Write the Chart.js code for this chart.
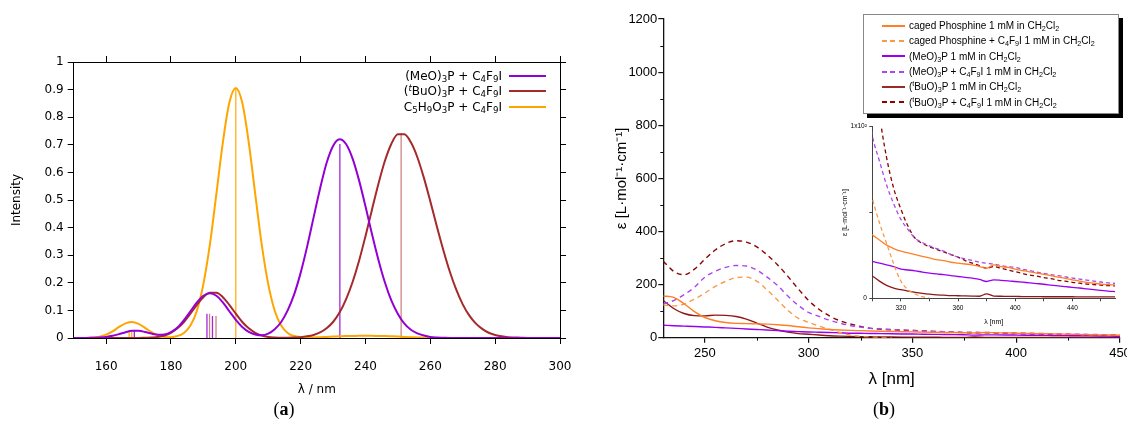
<!DOCTYPE html>
<html>
<head>
<meta charset="utf-8">
<script src="https://cdn.jsdelivr.net/npm/chart.js@4.4.1/dist/chart.umd.min.js"></script>
<style>
  html, body { margin: 0; padding: 0; background: #fff; }
  body { width: 1127px; height: 425px; position: relative; overflow: hidden; }
  canvas { position: absolute; }
  #cA { left: 0; top: 0; }
  #cB { left: 560px; top: 0; }
  #cI { left: 820px; top: 110px; }
  sub { font-size: 72%; vertical-align: -0.28em; line-height: 0; }
  sup { font-size: 72%; vertical-align: 0.5em; line-height: 0; }
  #legA { position: absolute; left: 296px; top: 68px; width: 250px;
          font: 12px 'DejaVu Sans', sans-serif; color: #000; }
  .rowA { display: flex; justify-content: flex-end; align-items: center; height: 15.5px; white-space: nowrap; }
  .sampA { display: inline-block; width: 37px; height: 2px; margin-left: 7px; }
  #legB { position: absolute; left: 863px; top: 14px; width: 256px; height: 100px; box-sizing: border-box;
          border: 1px solid #888; background: #fff; box-shadow: 4px 4px 0 #000; padding-top: 3px;
          font: 10px 'Liberation Sans', Arial, sans-serif; color: #000; }
  .rowB { height: 15.3px; display: flex; align-items: center; white-space: nowrap; }
  .sampB { display: inline-block; width: 23px; height: 2px; margin-left: 18px; margin-right: 4px; }
  .cap { position: absolute; top: 399px; text-align: center; font: 18px 'Liberation Serif', serif; color: #000; }
</style>
</head>
<body>
<canvas id="cA" width="588" height="400"></canvas>
<canvas id="cB" width="580" height="400"></canvas>
<canvas id="cI" width="307" height="230"></canvas>

<div id="legA">
  <div class="rowA"><span>(MeO)<sub>3</sub>P + C<sub>4</sub>F<sub>9</sub>I</span><span class="sampA" style="background:#9400d3"></span></div>
  <div class="rowA"><span>(<sup><i>t</i></sup>BuO)<sub>3</sub>P + C<sub>4</sub>F<sub>9</sub>I</span><span class="sampA" style="background:#a52a2a"></span></div>
  <div class="rowA"><span>C<sub>5</sub>H<sub>9</sub>O<sub>3</sub>P + C<sub>4</sub>F<sub>9</sub>I</span><span class="sampA" style="background:#ffa500"></span></div>
</div>

<div id="legB">
  <div class="rowB"><span class="sampB" style="background:#ff7f27"></span><span>caged Phosphine 1 mM in CH<sub>2</sub>Cl<sub>2</sub></span></div>
  <div class="rowB"><span class="sampB" style="background:repeating-linear-gradient(90deg,#f99a4a 0 5px,transparent 5px 8.5px)"></span><span>caged Phosphine + C<sub>4</sub>F<sub>9</sub>I 1 mM in CH<sub>2</sub>Cl<sub>2</sub></span></div>
  <div class="rowB"><span class="sampB" style="background:#9900ee"></span><span>(MeO)<sub>3</sub>P 1 mM in CH<sub>2</sub>Cl<sub>2</sub></span></div>
  <div class="rowB"><span class="sampB" style="background:repeating-linear-gradient(90deg,#a848f0 0 5px,transparent 5px 8.5px)"></span><span>(MeO)<sub>3</sub>P + C<sub>4</sub>F<sub>9</sub>I 1 mM in CH<sub>2</sub>Cl<sub>2</sub></span></div>
  <div class="rowB"><span class="sampB" style="background:#9a2a2a"></span><span>(<sup>t</sup>BuO)<sub>3</sub>P 1 mM in CH<sub>2</sub>Cl<sub>2</sub></span></div>
  <div class="rowB"><span class="sampB" style="background:repeating-linear-gradient(90deg,#8b0000 0 5px,transparent 5px 8.5px)"></span><span>(<sup>t</sup>BuO)<sub>3</sub>P + C<sub>4</sub>F<sub>9</sub>I 1 mM in CH<sub>2</sub>Cl<sub>2</sub></span></div>
</div>

<div class="cap" style="left:0;width:568px">(<b>a</b>)</div>
<div class="cap" style="left:784px;width:200px">(<b>b</b>)</div>

<script>
// ---------- (a) simulated spectra ----------
const lambdaA = [150,152,154,156,158,160,162,164,166,168,
                 170,172,174,176,178,180,182,184,186,188,
                 190,192,194,196,198,200,202,204,206,208,
                 210,212,214,216,218,220,222,224,226,228,
                 230,232,234,236,238,240,242,244,246,248,
                 250,252,254,256,258,260,262,264,266,268,
                 270,272,274,276,278,280,282,284,286,288,
                 290,292,294,296,298,300];

const meoA = [0,0,0,0.001,0.002,0.004,0.008,0.014,0.021,0.026,
              0.026,0.022,0.016,0.012,0.013,0.021,0.038,0.065,0.097,0.129,
              0.153,0.162,0.153,0.129,0.097,0.066,0.040,0.022,0.013,0.010,
              0.016,0.032,0.058,0.100,0.158,0.236,0.331,0.437,0.542,0.634,
              0.696,0.720,0.703,0.651,0.572,0.477,0.377,0.283,0.201,0.135,
              0.087,0.052,0.030,0.017,0.009,0.004,0.002,0.001,0,0,
              0,0,0,0,0,0,0,0,0,0,
              0,0,0,0,0,0];

const tbuoA = [0,0,0,0,0,0,0,0,0,0,
               0,0.001,0.002,0.004,0.009,0.019,0.035,0.058,0.088,0.120,
               0.148,0.164,0.164,0.148,0.120,0.088,0.058,0.035,0.019,0.009,
               0.004,0.002,0.001,0.001,0.002,0.003,0.006,0.011,0.020,0.035,
               0.058,0.092,0.140,0.202,0.279,0.369,0.465,0.559,0.642,0.704,
               0.738,0.738,0.709,0.655,0.581,0.495,0.405,0.319,0.241,0.175,
               0.122,0.082,0.053,0.033,0.019,0.011,0.006,0.003,0.002,0.001,
               0,0,0,0,0,0];

const c5A = [0,0,0,0.002,0.005,0.012,0.024,0.040,0.053,0.058,
             0.051,0.037,0.021,0.010,0.004,0.003,0.007,0.018,0.045,0.099,
             0.195,0.338,0.521,0.708,0.852,0.906,0.852,0.708,0.521,0.338,
             0.195,0.099,0.045,0.018,0.007,0.003,0.002,0.002,0.003,0.004,
             0.005,0.006,0.007,0.007,0.008,0.008,0.008,0.007,0.007,0.006,
             0.005,0.004,0.003,0.002,0.001,0,0,0,0,0,
             0,0,0,0,0,0,0,0,0,0,
             0,0,0,0,0,0];

// oscillator-strength sticks
const stickMeoX = [168.7, 191.1, 192.8, 232.1];
const stickMeoY = [0.028, 0.088, 0.080, 0.703];
const stickTbuoX = [191.9, 193.9, 251.0];
const stickTbuoY = [0.088, 0.080, 0.742];
const stickC5X = [167.1, 167.9, 200.0];
const stickC5Y = [0.028, 0.028, 0.906];

const ticksA_x = [160,180,200,220,240,260,280,300];

// ---------- (b) measured UV/Vis spectra ----------
const lambdaB = [230,235,240,245,250,255,260,265,270,275,
                 280,285,290,295,300,305,310,315,320,325,
                 330,335,340,345,350,355,360,365,370,375,
                 380,385,390,395,400,405,410,415,420,425,
                 430,435,440,445,450,455,460,465,470];

const cagedB = [157,152,128,98,76,64,57,54,53,52,
                51,49,46,41,37,34,31,29,27.5,26.5,
                25.5,24.5,23.5,22.5,22,21,20.5,20,19.5,18.5,
                17.5,19.5,18.5,18,17,16.2,15.4,14.7,14,13.2,
                12.4,11.6,10.8,10,9.3,8.8,8.3,8,7.8];

const cagedMixB = [123,120,127,145,168,193,212,226,228,213,
                   180,142,103,73,58,44,32,20,10,5,
                   2.5,1,0,null,null,null,null,null,null,null,
                   null,null,null,null,null,null,null,null,null,null,
                   null,null,null,null,null,null,null,null,null];

const meoB = [47,45,43.5,42,40.5,39,37,35,33,31,
              29,26.5,24.5,23,21.5,20.5,19.5,18.5,17,16.5,
              16,15.3,14.7,14.2,13.8,13.2,12.7,12.2,11.7,11,
              9.8,10.7,10.5,10.2,9.8,9.4,9,8.6,8.2,7.7,
              7.2,6.8,6.4,6,5.5,5,4.6,4.2,3.9];

const meoMixB = [127,140,162,190,228,250,265,272,270,255,
                 228,197,157,122,95,80,66,55,46,40,
                 35,32.5,30.5,29,27.5,25.5,24,23,22,21,
                 20.4,20,19,18.5,18,17,16.2,15.3,14.5,13.8,
                 13.2,12.5,11.8,11.2,10.6,10,9.5,9,8.7];

const tbuoB = [140,110,91,83,82,85,84,80,70,55,
               40,29,21,15.5,13,10,7.5,6,5,4.2,
               3.5,2.9,2.4,2,1.8,1.6,1.5,1.4,1.3,1.2,
               2.6,1.3,1.2,1.1,1.1,1.0,1.0,1.0,0.9,0.9,
               0.9,0.9,0.9,0.8,0.8,0.8,0.8,0.8,0.8];

const tbuoMixB = [288,250,237,258,295,330,354,365,360,342,
                  312,275,231,184,140,107,82,64,52,42,
                  35,32,30,28.5,27,25.5,24,22,20.5,19,
                  17.5,18.5,17.5,16.5,15.5,14.5,13.5,13,12,11.5,
                  10.5,10,9.3,8.8,8.3,8,7.7,7.4,7.2];

const ticksB_x = [250,300,350,400,450];
const minorB_x = [275,325,375,425];
const ticksB_y = [0,200,400,600,800,1000,1200];
const minorB_y = [100,300,500,700,900,1100];
const ticksInset_x = [300,320,340,360,380,400,420,440,460];
const labelsInset_x = [320,360,400,440];
const ticksInset_y = [0,50,100];

// ---------- helpers ----------
const FONT_A = "'DejaVu Sans', sans-serif";
const FONT_B = "'Liberation Sans', Arial, sans-serif";

function toPoints(xs, ys) { return xs.map((x, i) => ({ x: x, y: ys[i] })); }
function stickPoints(xs, hs) {
  const pts = [];
  xs.forEach((x, i) => { pts.push({ x: x, y: 0 }, { x: x, y: hs[i] }, { x: x, y: null }); });
  return pts;
}
function setTicks(values) { return (scale) => { scale.ticks = values.map(v => ({ value: v })); }; }

const minorTicks = {
  id: 'minorTicks',
  afterDraw(chart, args, opts) {
    if (!opts || (!opts.x && !opts.y)) return;
    const { ctx, chartArea, scales } = chart;
    ctx.save();
    ctx.strokeStyle = opts.color || '#000';
    ctx.lineWidth = opts.width || 1;
    (opts.x || []).forEach(v => {
      const px = Math.round(scales.x.getPixelForValue(v)) + 0.5;
      ctx.beginPath(); ctx.moveTo(px, chartArea.bottom); ctx.lineTo(px, chartArea.bottom + opts.len); ctx.stroke();
    });
    (opts.y || []).forEach(v => {
      const py = Math.round(scales.y.getPixelForValue(v)) + 0.5;
      ctx.beginPath(); ctx.moveTo(chartArea.left, py); ctx.lineTo(chartArea.left - opts.len, py); ctx.stroke();
    });
    ctx.restore();
  }
};

const common = {
  responsive: false,
  animation: false,
  events: [],
  plugins: { legend: { display: false }, tooltip: { enabled: false } }
};

// ---------- chart (a) ----------
const curveA = (data, color) => ({
  data: toPoints(lambdaA, data), borderColor: color, borderWidth: 2,
  pointRadius: 0, cubicInterpolationMode: 'monotone', fill: false
});
const stickA = (xs, hs, color) => ({
  data: stickPoints(xs, hs), borderColor: color, borderWidth: 1.3,
  pointRadius: 0, tension: 0, spanGaps: false, fill: false
});

const gridA = { drawOnChartArea: false, drawTicks: true, tickLength: 6, color: '#000', lineWidth: 1 };
const borderA = { display: true, color: '#000', width: 1 };
const tickFontA = { family: FONT_A, size: 12 };

new Chart(document.getElementById('cA'), {
  type: 'line',
  data: {
    datasets: [
      curveA(meoA, '#9400d3'),
      curveA(tbuoA, '#a52a2a'),
      curveA(c5A, '#ffa500'),
      stickA(stickMeoX, stickMeoY, 'rgba(148,0,211,0.85)'),
      stickA(stickTbuoX, stickTbuoY, 'rgba(190,90,90,0.75)'),
      stickA(stickC5X, stickC5Y, 'rgba(255,165,0,0.9)')
    ]
  },
  options: Object.assign({}, common, {
    layout: { padding: 0 },
    scales: {
      x: {
        type: 'linear', position: 'bottom', min: 150, max: 300,
        afterBuildTicks: setTicks(ticksA_x),
        afterFit: s => { s.height = 62; },
        ticks: { padding: 16, color: '#000', font: tickFontA, maxRotation: 0 },
        grid: gridA, border: borderA,
        title: { display: true, text: 'λ / nm', color: '#000', font: { family: FONT_A, size: 12 }, padding: { top: 0, bottom: 3 } }
      },
      x2: {
        type: 'linear', position: 'top', min: 150, max: 300,
        afterBuildTicks: setTicks(ticksA_x),
        afterFit: s => { s.height = 62; },
        ticks: { display: false },
        grid: gridA, border: borderA
      },
      y: {
        type: 'linear', position: 'left', min: 0, max: 1,
        afterFit: s => { s.width = 73.7; },
        ticks: { stepSize: 0.1, padding: 4, color: '#000', font: tickFontA,
                 callback: v => String(+v.toFixed(1)) },
        grid: gridA, border: borderA,
        title: { display: true, text: 'Intensity', color: '#000', font: { family: FONT_A, size: 12 }, padding: { top: 9.5, bottom: 0 } }
      },
      y2: {
        type: 'linear', position: 'right', min: 0, max: 1,
        afterFit: s => { s.width = 28; },
        ticks: { display: false, stepSize: 0.1 },
        grid: gridA, border: borderA
      }
    }
  })
});

// ---------- chart (b) and its inset ----------
const seriesB = [
  { data: cagedB,    color: '#ff7f27', dashed: false },
  { data: cagedMixB, color: '#f99a4a', dashed: true },
  { data: meoB,      color: '#9900ee', dashed: false },
  { data: meoMixB,   color: '#a848f0', dashed: true },
  { data: tbuoB,     color: '#8e1818', dashed: false },
  { data: tbuoMixB,  color: '#8b0000', dashed: true }
];
function datasetsB(width, dash) {
  return seriesB.map(s => ({
    data: toPoints(lambdaB, s.data), borderColor: s.color, borderWidth: width,
    borderDash: s.dashed ? dash : [], pointRadius: 0,
    cubicInterpolationMode: 'monotone', spanGaps: false, fill: false
  }));
}

const gridB = { drawOnChartArea: false, drawTicks: true, tickLength: 5, color: '#111', lineWidth: 1.2 };
const borderB = { display: true, color: '#111', width: 1.3 };
const tickFontB = { family: FONT_B, size: 13 };

new Chart(document.getElementById('cB'), {
  type: 'line',
  data: { datasets: datasetsB(1.4, [5, 4]) },
  plugins: [minorTicks],
  options: Object.assign({}, common, {
    layout: { padding: { top: 19, right: 20, left: 0, bottom: 0 } },
    plugins: Object.assign({}, common.plugins, {
      minorTicks: { x: minorB_x, y: minorB_y, len: 3, color: '#111', width: 1 }
    }),
    scales: {
      x: {
        type: 'linear', position: 'bottom', min: 230, max: 450,
        afterBuildTicks: setTicks(ticksB_x),
        afterFit: s => { s.height = 62.3; },
        ticks: { padding: 3, color: '#000', font: tickFontB, maxRotation: 0, callback: v => String(v) },
        grid: gridB, border: borderB,
        title: { display: true, text: 'λ [nm]', color: '#000', font: { family: FONT_B, size: 17 }, padding: { top: 0, bottom: 10 } }
      },
      y: {
        type: 'linear', position: 'left', min: 0, max: 1200,
        afterBuildTicks: setTicks(ticksB_y),
        afterFit: s => { s.width = 103.3; },
        ticks: { padding: 1, color: '#000', font: tickFontB, callback: v => String(v) },
        grid: gridB, border: borderB,
        title: { display: true, text: 'ε [L·mol⁻¹·cm⁻¹]', color: '#000', font: { family: FONT_B, size: 15 }, padding: { top: 52.7, bottom: 0 } }
      }
    }
  })
});

const gridI = { drawOnChartArea: false, drawTicks: true, tickLength: 3, color: '#444', lineWidth: 1 };
const borderI = { display: true, color: '#444', width: 1 };
const tickFontI = { family: FONT_B, size: 6.5 };

new Chart(document.getElementById('cI'), {
  type: 'line',
  data: { datasets: datasetsB(1.3, [4, 3]) },
  options: Object.assign({}, common, {
    layout: { padding: { top: 16.7, right: 11.8, left: 0, bottom: 0 } },
    scales: {
      x: {
        type: 'linear', position: 'bottom', min: 300, max: 470,
        afterBuildTicks: setTicks(ticksInset_x),
        afterFit: s => { s.height = 41.7; },
        ticks: { padding: 3, color: '#000', font: tickFontI, maxRotation: 0,
                 callback: v => labelsInset_x.includes(v) ? String(v) : '' },
        grid: gridI, border: borderI,
        title: { display: true, text: 'λ [nm]', color: '#000', font: { family: FONT_B, size: 7 }, padding: { top: 0, bottom: 14 } }
      },
      y: {
        type: 'linear', position: 'left', min: 0, max: 100,
        afterBuildTicks: setTicks(ticksInset_y),
        afterFit: s => { s.width = 52.3; },
        ticks: { padding: 2.5, color: '#000', font: tickFontI,
                 callback: v => v === 100 ? '1x10²' : (v === 0 ? '0' : '') },
        grid: gridI, border: borderI,
        title: { display: true, text: 'ε [L·mol⁻¹·cm⁻¹]', color: '#000', font: { family: FONT_B, size: 7 }, padding: { top: 20.8, bottom: 0 } }
      }
    }
  })
});
</script>
</body>
</html>
